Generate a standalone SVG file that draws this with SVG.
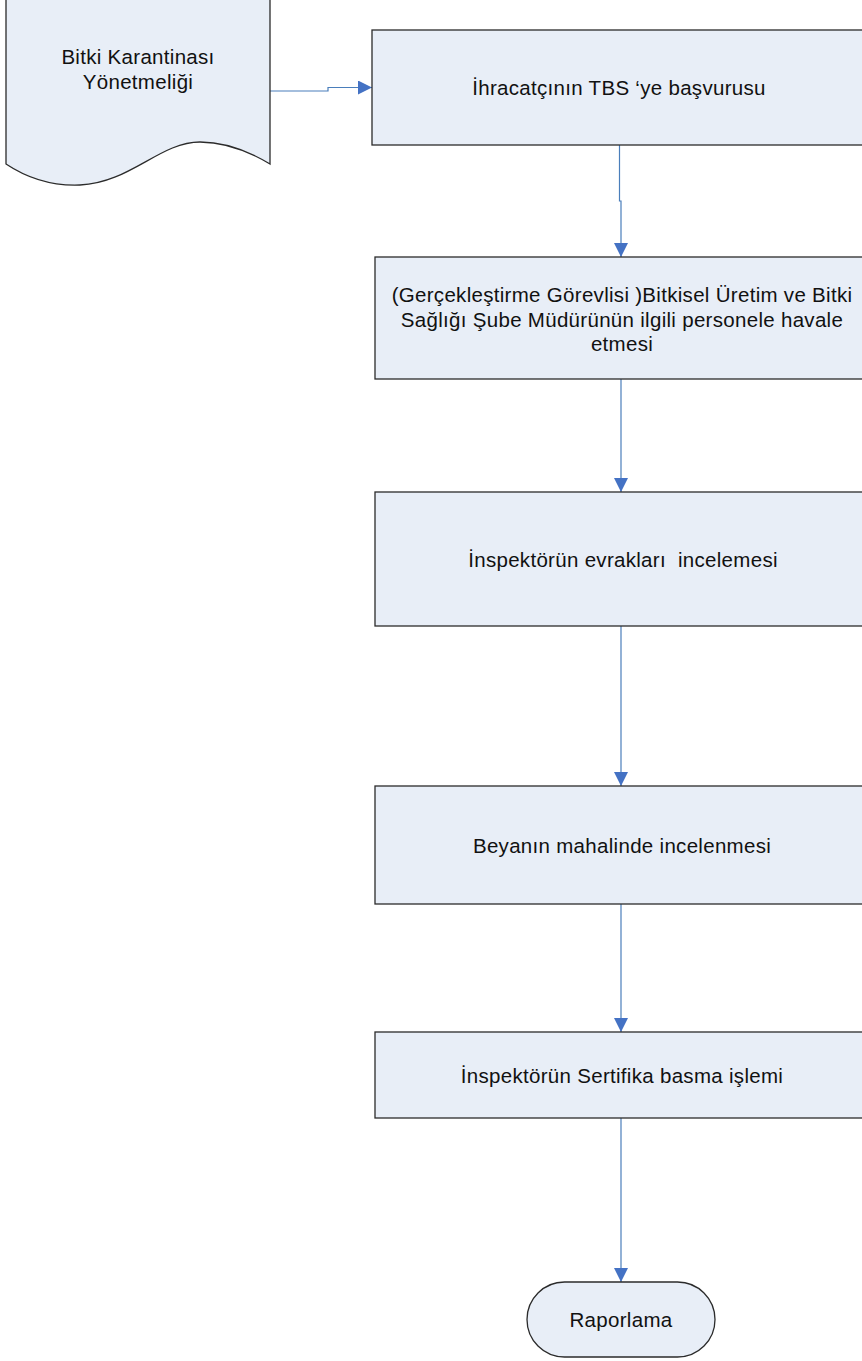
<svg xmlns="http://www.w3.org/2000/svg" width="862" height="1361" viewBox="0 0 862 1361">
<defs>
<style>
.shape{fill:#E8EEF7;stroke:#2b2b2b;stroke-width:1.3}
.lbl{font-family:"Liberation Sans",Arial,sans-serif;font-size:20.5px;fill:#111;text-anchor:middle;letter-spacing:0.3px}
.conn{fill:none;stroke:#4A7EBB;stroke-width:1.2}
</style>
<marker id="ah" markerWidth="14" markerHeight="14" viewBox="0 0 14 14" refX="14" refY="7" orient="auto" markerUnits="userSpaceOnUse">
<path d="M0,0 L14,7 L0,14 Z" fill="#4472C4"/>
</marker>
</defs>
<rect width="862" height="1361" fill="#fff"/>
<g id="connectors">
<path class="conn" d="M270,91 H328 V87.5 H372" marker-end="url(#ah)"/>
<path class="conn" d="M619.5,145 V201 H621 V257" marker-end="url(#ah)"/>
<path class="conn" d="M621,379 V492" marker-end="url(#ah)"/>
<path class="conn" d="M621,626 V786" marker-end="url(#ah)"/>
<path class="conn" d="M621,904 V1032" marker-end="url(#ah)"/>
<path class="conn" d="M621,1118 V1282" marker-end="url(#ah)"/>
</g>
<g id="doc">
<path class="shape" d="M6,-5 V164 C30,180 55,186 80,185 C130,183 160,142 200,142 C230,142 255,155 270,164 V-5 Z"/>
<text class="lbl" x="138" y="64">Bitki Karantinası</text>
<text class="lbl" x="138" y="89">Yönetmeliği</text>
</g>
<g id="n1">
<rect class="shape" x="372" y="30" width="500" height="115"/>
<text class="lbl" x="619" y="95">İhracatçının TBS ‘ye başvurusu</text>
</g>
<g id="n2">
<rect class="shape" x="375" y="257" width="497" height="122"/>
<text class="lbl" x="622" y="302">(Gerçekleştirme Görevlisi )Bitkisel Üretim ve Bitki</text>
<text class="lbl" x="622" y="327">Sağlığı Şube Müdürünün ilgili personele havale</text>
<text class="lbl" x="622" y="351">etmesi</text>
</g>
<g id="n3">
<rect class="shape" x="375" y="492" width="497" height="134"/>
<text class="lbl" x="623" y="567" xml:space="preserve">İnspektörün evrakları  incelemesi</text>
</g>
<g id="n4">
<rect class="shape" x="375" y="786" width="497" height="118"/>
<text class="lbl" x="622" y="853">Beyanın mahalinde incelenmesi</text>
</g>
<g id="n5">
<rect class="shape" x="375" y="1032" width="497" height="86"/>
<text class="lbl" x="622" y="1083">İnspektörün Sertifika basma işlemi</text>
</g>
<g id="end">
<rect class="shape" x="527" y="1282" width="188" height="75" rx="37.5" ry="37.5"/>
<text class="lbl" x="621" y="1327">Raporlama</text>
</g>
</svg>
